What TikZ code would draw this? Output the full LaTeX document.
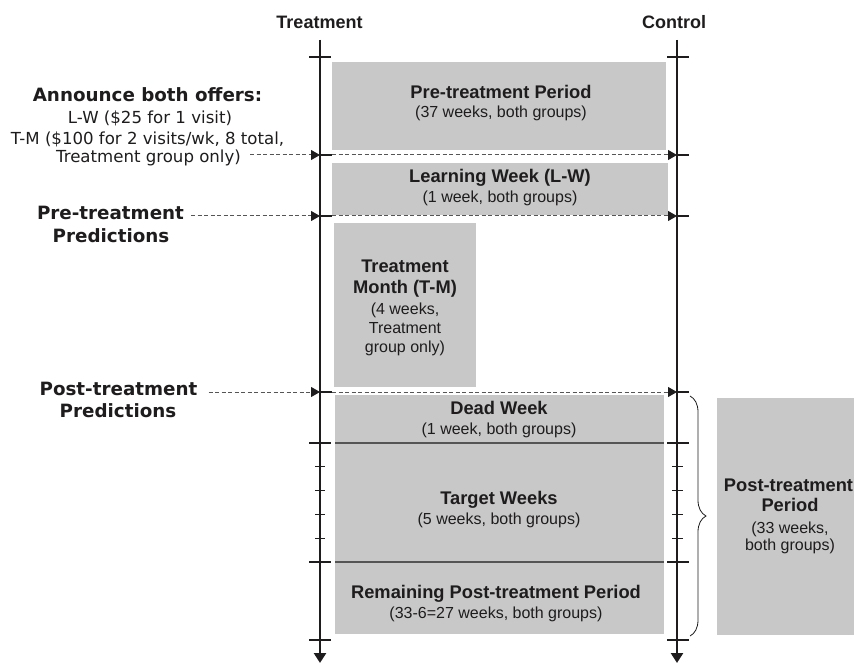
\documentclass[tikz,border=0pt]{standalone}
\usepackage{fontspec}
\setmainfont{Liberation Sans}
\newfontfamily\verdfont{DejaVu Sans}
\usetikzlibrary{positioning,arrows.meta,decorations.pathreplacing}

\definecolor{boxgray}{RGB}{200,200,201}
\definecolor{inkgray}{RGB}{30,28,29}
\definecolor{dashgray}{RGB}{85,85,85}

\tikzset{
  axisline/.style={line width=2.8pt, draw=inkgray, -{Triangle[length=10pt,width=12pt]}},
  bigtick/.style={line width=2.8pt, draw=inkgray},
  smalltick/.style={line width=1pt, draw=inkgray},
  dasharrow/.style={line width=1pt, draw=dashgray, dash pattern=on 4pt off 2.5pt,
    -{Triangle[length=9pt,width=10pt,color=inkgray]}},
  periodbox/.style={fill=boxgray, draw=none},
  splitline/.style={line width=1.2pt, draw=inkgray!75},
  headtext/.style={font=\fontsize{18}{20}\selectfont\bfseries, anchor=base, inner sep=0pt, text=inkgray},
  boxtitle/.style={font=\fontsize{18.3}{22}\selectfont\bfseries, anchor=base, inner sep=0pt, text=inkgray},
  boxsub/.style={font=\fontsize{16}{19}\selectfont, anchor=base, inner sep=0pt, text=inkgray},
  sidetitle/.style={font=\verdfont\fontsize{18.3}{22}\selectfont\bfseries, anchor=base, inner sep=0pt, text=inkgray},
  sidetext/.style={font=\verdfont\fontsize{16.6}{19}\selectfont, anchor=base, inner sep=0pt, text=inkgray}
}

\begin{document}
\begin{tikzpicture}[x=1pt,y=-1pt]
\useasboundingbox (0,0) rectangle (854,663);

% grey periods
\fill[periodbox] (332,62) rectangle (666,150);
\fill[periodbox] (332,163) rectangle (668,215);
\fill[periodbox] (334,223) rectangle (476,387);
\fill[periodbox] (335,395) rectangle (664,634);
\fill[periodbox] (717,398) rectangle (875,635);
\draw[splitline] (335,443) -- (664,443);
\draw[splitline] (335,562) -- (664,562);

% time lines
\node[headtext] (treathead) at (319.5,29) {Treatment};
\node[headtext] (ctrlhead) at (674,29) {Control};
\coordinate (ttop) at (320,40);
\coordinate (tbot) at (320,663);
\coordinate (ctop) at (677,40);
\coordinate (cbot) at (677,663);
\draw[axisline] (ttop) -- (tbot);
\draw[axisline] (ctop) -- (cbot);

\coordinate (ev1) at (320,155);
\coordinate (ev1c) at (677,155);
\coordinate (ev2) at (320,216);
\coordinate (ev2c) at (677,216);
\coordinate (ev3) at (320,392);
\coordinate (ev3c) at (677,392);

% ticks
\foreach \y in {57,443,562,640} {
  \draw[bigtick] (309,\y) -- (331,\y);
  \draw[bigtick] (667,\y) -- (689,\y);
}
\foreach \y in {155,216,392} {
  \draw[bigtick] (320,\y) -- (332,\y);
  \draw[bigtick] (677,\y) -- (689,\y);
}
\foreach \k in {1,...,4} {
  \draw[smalltick] (315,443+23.8*\k) -- (325,443+23.8*\k);
  \draw[smalltick] (672,443+23.8*\k) -- (683,443+23.8*\k);
}

% left labels
\node[sidetitle] (annhead) at (147.5,101.5) {Announce both offers:};
\node[sidetext] (annlw) at (150,124) {L-W (\$25 for 1 visit)};
\node[sidetext] (anntm) at (147.5,145) {T-M (\$100 for 2 visits/wk, 8 total,};
\node[sidetext] (annonly) at (148.5,163) {Treatment group only)};
\node[sidetitle] (prepred) at (110.5,220) {Pre-treatment};
\node[sidetitle] (prepredb) at (111,243) {Predictions};
\node[sidetitle] (postpred) at (118.5,395) {Post-treatment};
\node[sidetitle] (postpredb) at (118,417) {Predictions};

\draw[dasharrow] (annonly.east |- ev1) ++(9,0) -- (ev1);
\draw[dasharrow] (ev1) ++(12,0) -- (ev1c);
\draw[dasharrow] (prepred.east |- ev2) ++(7,0) -- (ev2);
\draw[dasharrow] (ev2) ++(12,0) -- (ev2c);
\draw[dasharrow] (postpred.east |- ev3) ++(11,0) -- (ev3);
\draw[dasharrow] (ev3) ++(12,0) -- (ev3c);

% period texts
\node[boxtitle] (pretitle) at (501,98.5) {Pre-treatment Period};
\node[boxsub] (presub) at (501,118) {(37 weeks, both groups)};
\node[boxtitle] (lwtitle) at (500,183) {Learning Week (L-W)};
\node[boxsub] (lwsub) at (500,202.5) {(1 week, both groups)};
\node[boxtitle] (tmtitle) at (405,272) {Treatment};
\node[boxtitle] (tmtitleb) at (405,293) {Month (T-M)};
\node[boxsub] (tmsub) at (405,314) {(4 weeks,};
\node[boxsub] (tmsubb) at (405,333) {Treatment};
\node[boxsub] (tmsubc) at (405,352) {group only)};
\node[boxtitle] (deadtitle) at (499,414) {Dead Week};
\node[boxsub] (deadsub) at (499,434) {(1 week, both groups)};
\node[boxtitle] (targettitle) at (499,504) {Target Weeks};
\node[boxsub] (targetsub) at (499,524) {(5 weeks, both groups)};
\node[boxtitle] (resttitle) at (496,598.5) {Remaining Post-treatment Period};
\node[boxsub] (restsub) at (496,618.5) {(33-6=27 weeks, both groups)};

% post-treatment brace
\coordinate (bracetop) at (690,396);
\coordinate (bracebot) at (690,636);
\draw[line width=0.8pt, draw=inkgray, decorate, decoration={brace, amplitude=16pt}] (bracetop) -- (bracebot);
\node[boxtitle] (posttitle) at (788.5,491.5) {Post-treatment};
\node[boxtitle] (posttitleb) at (790,511.5) {Period};
\node[boxsub] (postsub) at (790,533) {(33 weeks,};
\node[boxsub] (postsubb) at (790,550) {both groups)};
\end{tikzpicture}
\end{document}
